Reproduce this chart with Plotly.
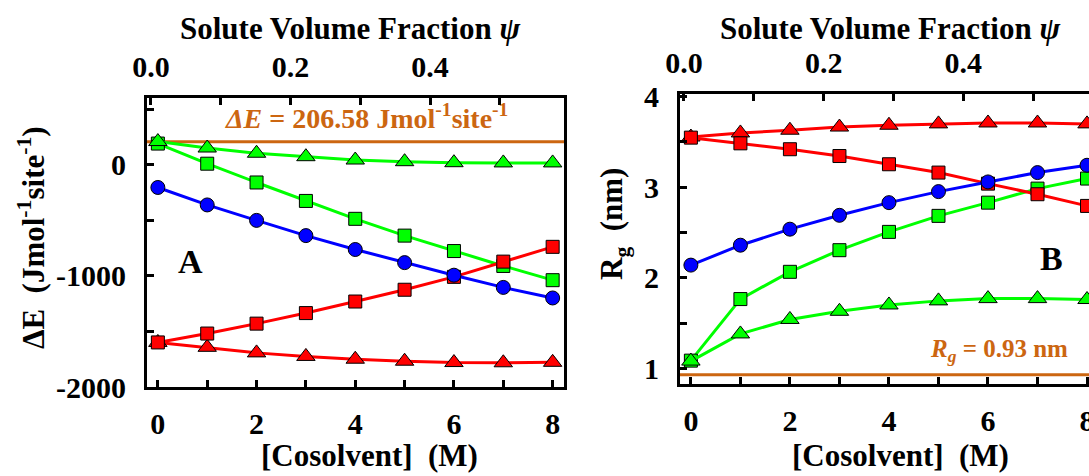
import plotly.graph_objects as go

W, H = 1089, 476

# ---------------- data ----------------
conc = [0, 1, 2, 3, 4, 5, 6, 7, 8]

# Panel A : Delta E (J mol-1 site-1)
dE_green_sq = [190, 9, -160, -326, -487, -638, -777, -911, -1039]
dE_green_tri = [208, 150, 103, 72, 42, 27, 18, 16, 16]
dE_red_tri = [-1599, -1643, -1693, -1725, -1750, -1768, -1780, -1782, -1778]
dE_red_sq = [-1599, -1519, -1430, -1335, -1231, -1125, -1009, -872, -739]
dE_blue = [-205, -362, -501, -638, -763, -881, -994, -1104, -1199]
dE_ref = 206.58

# Panel B : Rg (nm)
rg_green_sq = [1.085, 1.765, 2.066, 2.305, 2.507, 2.684, 2.83, 2.985, 3.096]
rg_green_tri = [1.08, 1.38, 1.54, 1.63, 1.70, 1.745, 1.77, 1.77, 1.76]
rg_red_tri = [3.555, 3.60, 3.63, 3.665, 3.685, 3.70, 3.71, 3.71, 3.70]
rg_red_sq = [3.548, 3.485, 3.42, 3.345, 3.254, 3.162, 3.04, 2.923, 2.794]
rg_blue = [2.14, 2.36, 2.537, 2.69, 2.83, 2.952, 3.059, 3.162, 3.243]
rg_ref = 0.93

# tick labels
xA_ticks = [0, 2, 4, 6, 8]
psi_ticks = [0.0, 0.2, 0.4]
psi_ticktext = ["0.0", "0.2", "0.4"]
yA_ticks = [-2000, -1000, 0]
yA_ticktext = ["-2000", "-1000", "0"]
yB_ticks = [1, 2, 3, 4]

# ---------------- styling ----------------
GREEN = "#00FF00"
RED = "#FF0000"
BLUE = "#0000FF"
ORANGE = "#CC6611"
FONT = "Liberation Serif"

def px_x(p):
    return p / W

def px_y(p):
    return 1 - p / H

fig = go.Figure()

series = [
    ("gsq", GREEN, "square", 13),
    ("gtri", GREEN, "triangle-up", 16),
    ("rtri", RED, "triangle-up", 16),
    ("rsq", RED, "square", 13),
    ("blue", BLUE, "circle", 14),
]
dataA = {"gsq": dE_green_sq, "gtri": dE_green_tri, "rtri": dE_red_tri,
         "rsq": dE_red_sq, "blue": dE_blue}
dataB = {"gsq": rg_green_sq, "gtri": rg_green_tri, "rtri": rg_red_tri,
         "rsq": rg_red_sq, "blue": rg_blue}

for key, col, sym, sz in series:
    fig.add_trace(go.Scatter(
        x=conc, y=dataA[key], mode="lines+markers", xaxis="x", yaxis="y",
        line=dict(color=col, width=3),
        marker=dict(symbol=sym, size=sz, color=col, line=dict(color="black", width=1)),
        showlegend=False, hoverinfo="skip"))
for key, col, sym, sz in series:
    fig.add_trace(go.Scatter(
        x=conc, y=dataB[key], mode="lines+markers", xaxis="x3", yaxis="y2",
        line=dict(color=col, width=3),
        marker=dict(symbol=sym, size=sz, color=col, line=dict(color="black", width=1)),
        showlegend=False, hoverinfo="skip"))

# invisible traces so the top (volume-fraction) axes are created
fig.add_trace(go.Scatter(x=psi_ticks, y=[None] * len(psi_ticks), xaxis="x2", yaxis="y",
                         mode="markers", showlegend=False, hoverinfo="skip"))
fig.add_trace(go.Scatter(x=psi_ticks, y=[None] * len(psi_ticks), xaxis="x4", yaxis="y2",
                         mode="markers", showlegend=False, hoverinfo="skip"))

# reference lines
fig.add_shape(type="line", xref="x domain", yref="y", x0=0, x1=1, y0=dE_ref, y1=dE_ref,
              line=dict(color=ORANGE, width=3), layer="below")
fig.add_shape(type="line", xref="x3 domain", yref="y2", x0=0, x1=1, y0=rg_ref, y1=rg_ref,
              line=dict(color=ORANGE, width=3), layer="below")

tickfont = dict(family=FONT, size=30, color="black", weight="bold")
common = dict(showline=True, linecolor="black", linewidth=3, ticks="inside",
              ticklen=7, tickwidth=2.5, tickcolor="black", showgrid=False,
              zeroline=False, tickfont=tickfont, automargin=False)

def minor(d):
    return dict(dtick=d, tick0=0, ticks="inside", ticklen=7, tickwidth=2.5, tickcolor="black")

LX = [px_x(147), px_x(564)]
LY = [px_y(387), px_y(98)]
RX = [px_x(680), 1.0]
RY = [px_y(384), px_y(94)]

fig.update_layout(
    width=W, height=H, margin=dict(l=0, r=0, t=0, b=0, pad=0, autoexpand=False),
    paper_bgcolor="white", plot_bgcolor="white", showlegend=False,
    xaxis=dict(domain=LX, anchor="y", range=[-0.22, 8.23], tickmode="array",
               tickvals=xA_ticks, ticktext=[str(v) for v in xA_ticks],
               minor=minor(1), ticklabelstandoff=8, **common),
    xaxis2=dict(domain=LX, anchor="y", overlaying="x", side="top", range=[-0.0057, 0.592],
                tickmode="array", tickvals=psi_ticks, ticktext=psi_ticktext,
                minor=minor(0.1), ticklabelstandoff=6, **common),
    yaxis=dict(domain=LY, anchor="x", range=[-2000, 600], tickmode="array",
               tickvals=yA_ticks, ticktext=yA_ticktext, mirror=True,
               minor=minor(500), ticklabelstandoff=12, **common),
    xaxis3=dict(domain=RX, anchor="y2", range=[-0.22, 8.04], tickmode="array",
                tickvals=xA_ticks, ticktext=[str(v) for v in xA_ticks],
                minor=minor(1), ticklabelstandoff=8, ticklabeloverflow="allow", **common),
    xaxis4=dict(domain=RX, anchor="y2", overlaying="x3", side="top", range=[-0.0057, 0.58],
                tickmode="array", tickvals=psi_ticks, ticktext=psi_ticktext,
                minor=minor(0.1), ticklabelstandoff=6, ticklabeloverflow="allow", **common),
    yaxis2=dict(domain=RY, anchor="x3", range=[0.827, 4.03], tickmode="array",
                tickvals=yB_ticks, ticktext=[str(v) for v in yB_ticks], mirror=False,
                minor=minor(0.5), ticklabelstandoff=12, **common),
)

def ann(text, x, y, size=31, color="black", angle=0, xanchor="center", yanchor="middle"):
    fig.add_annotation(text=text, x=px_x(x), y=px_y(y), xref="paper", yref="paper",
                       showarrow=False, textangle=angle, xanchor=xanchor, yanchor=yanchor,
                       font=dict(family=FONT, size=size, color=color, weight="bold"))

ann("Solute Volume Fraction <i>ψ</i>", 350, 28)
ann("Solute Volume Fraction <i>ψ</i>", 890, 28)
ann("[Cosolvent]  (M)", 370, 455)
ann("[Cosolvent]  (M)", 900, 455)
ann("ΔE  (Jmol<sup>-1</sup>site<sup>-1</sup>)", 31, 238, angle=-90)
ann("R<sub>g</sub>  (nm)", 614, 224, angle=-90)
ann("A", 190, 261, size=34)
ann("B", 1051, 258, size=34)
ann("<i>ΔE</i> = 206.58 Jmol<sup>-1</sup>site<sup>-1</sup>", 366, 116, size=28, color=ORANGE)
ann("<i>R<sub>g</sub></i> = 0.93 nm", 999, 350, size=25, color=ORANGE)

fig.write_html("out.html")
